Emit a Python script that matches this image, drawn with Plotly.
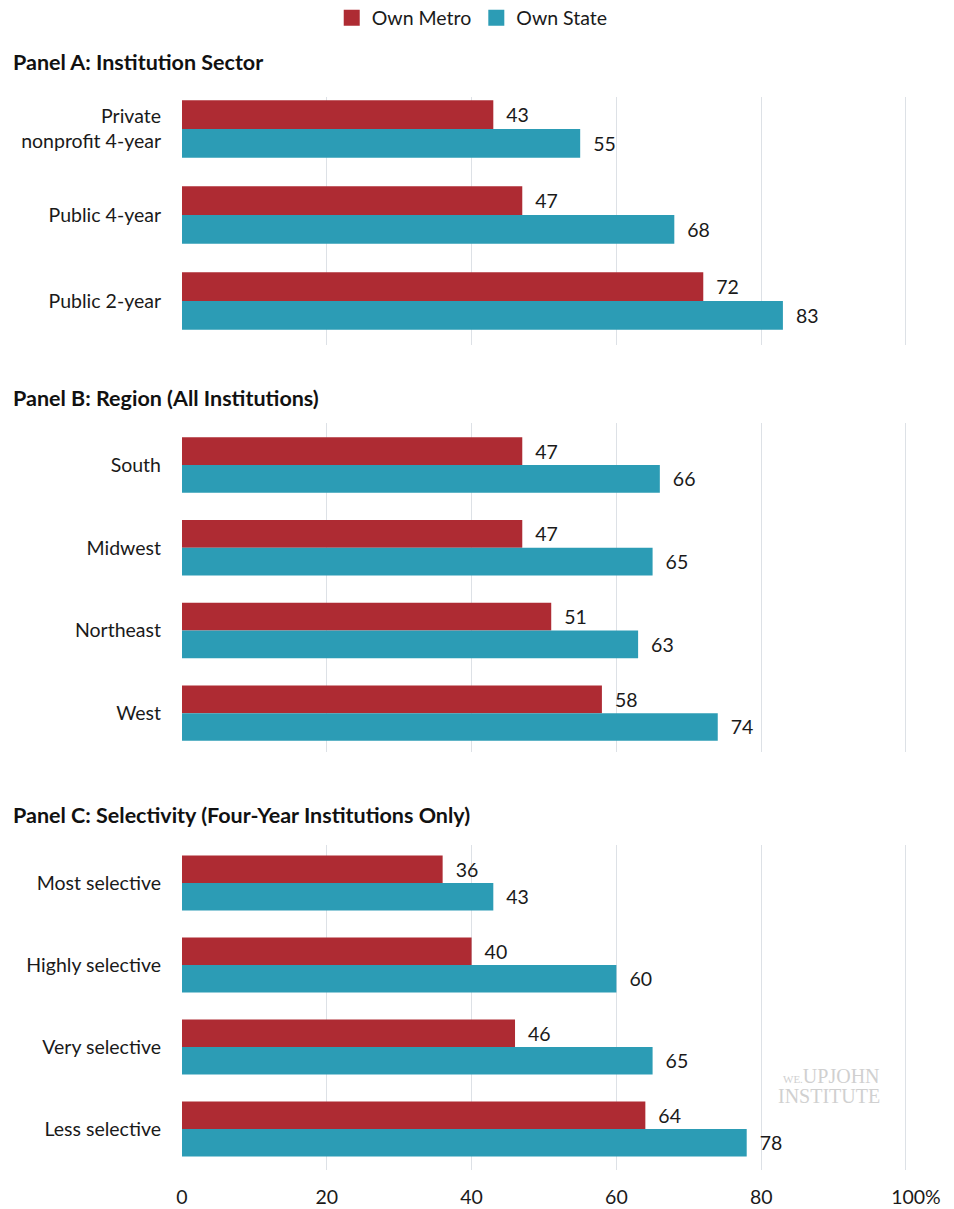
import plotly.graph_objects as go

# ---- data ----
series_names = ["Own Metro", "Own State"]
colors = ["#AE2B33", "#2C9CB5"]

panelA_title = "Panel A: Institution Sector"
panelA_cats = ["Private<br>nonprofit 4-year", "Public 4-year", "Public 2-year"]
panelA_metro = [43, 47, 72]
panelA_state = [55, 68, 83]

panelB_title = "Panel B: Region (All Institutions)"
panelB_cats = ["South", "Midwest", "Northeast", "West"]
panelB_metro = [47, 47, 51, 58]
panelB_state = [66, 65, 63, 74]

panelC_title = "Panel C: Selectivity (Four-Year Institutions Only)"
panelC_cats = ["Most selective", "Highly selective", "Very selective", "Less selective"]
panelC_metro = [36, 40, 46, 64]
panelC_state = [43, 60, 65, 78]

x_ticks = [0, 20, 40, 60, 80, 100]
x_ticktext = ["0", "20", "40", "60", "80", "\u00a0\u00a0\u00a0\u00a0100%"]

FONT = "Lato"
TXT = "#1a1a1a"
GRID = "#dde1e6"

W, H = 954, 1209

def py(p):
    return 1 - p / H

panels = [
    (panelA_title, panelA_cats, panelA_metro, panelA_state, (97, 345), [2.512, -0.372], 62),
    (panelB_title, panelB_cats, panelB_metro, panelB_state, (423, 752), [3.47, -0.508], 398),
    (panelC_title, panelC_cats, panelC_metro, panelC_state, (845, 1170), [3.5, -0.463], 815),
]

fig = go.Figure()
layout = dict(
    width=W, height=H,
    margin=dict(l=0, r=0, t=0, b=0, autoexpand=False),
    paper_bgcolor="white", plot_bgcolor="white",
    barmode="group", bargap=0.33, bargroupgap=0,
    font=dict(family=FONT, color=TXT, size=19),
    showlegend=True,
    legend=dict(orientation="h", x=0.495, xanchor="center", y=py(18), yanchor="middle",
                font=dict(size=19.5, family=FONT, color=TXT), itemclick=False,
                tracegroupgap=0, itemwidth=30),
    annotations=[], shapes=[],
)

for i, (title, cats, metro, state, (ptop, pbot), yrange, ty) in enumerate(panels):
    n = "" if i == 0 else str(i + 1)
    xa, ya = "x" + n, "y" + n
    for name, vals, col in zip(series_names, [metro, state], colors):
        fig.add_trace(go.Bar(
            y=cats, x=vals, orientation="h", name=name,
            marker=dict(color=col, line=dict(width=0)),
            text=["\u00a0\u00a0" + str(v) for v in vals], textposition="outside",
            textfont=dict(size=19.5, color=TXT, family=FONT),
            cliponaxis=False, showlegend=False,
            xaxis=xa, yaxis=ya,
        ))
    layout["xaxis" + n] = dict(
        domain=[182 / W, 907 / W], anchor=ya, range=[0, 100.14],
        tickvals=x_ticks, ticktext=x_ticktext, automargin=False,
        showticklabels=(i == 2), showgrid=True, gridcolor=GRID, gridwidth=1.3,
        zeroline=False, showline=False, ticks="",
        tickfont=dict(size=19.5, color=TXT, family=FONT), ticklabelstandoff=13,
        fixedrange=True,
    )
    layout["yaxis" + n] = dict(
        domain=[py(pbot), py(ptop)], anchor=xa, type="category", automargin=False,
        range=yrange, showgrid=False, zeroline=False, showline=False, ticks="",
        tickfont=dict(size=19.5, color=TXT, family=FONT), ticklabelstandoff=20,
        fixedrange=True,
    )
    layout["annotations"].append(dict(
        text="<b>" + title + "</b>", xref="paper", yref="paper",
        x=11 / W, y=py(ty), xanchor="left", yanchor="middle", showarrow=False,
        font=dict(size=21.5, family=FONT, color="#111111"),
    ))

# legend entries (square markers)
for name, col in zip(series_names, colors):
    fig.add_trace(go.Scatter(
        x=[None], y=[None], mode="markers", name=name,
        marker=dict(symbol="square", size=18, color=col),
        showlegend=True, xaxis="x", yaxis="y",
    ))

# watermark
layout["annotations"].append(dict(
    text="<span style='font-size:11px'>WE.</span>UPJOHN", xref="paper", yref="paper",
    x=882 / W, y=py(1076), xanchor="right", yanchor="middle", showarrow=False,
    font=dict(size=20, family="Liberation Serif", color="#d0d0d0"),
))
layout["annotations"].append(dict(
    text="INSTITUTE", xref="paper", yref="paper",
    x=882 / W, y=py(1096), xanchor="right", yanchor="middle", showarrow=False,
    font=dict(size=20, family="Liberation Serif", color="#d0d0d0"),
))

fig.update_layout(**layout)
fig.write_html("out.html")
